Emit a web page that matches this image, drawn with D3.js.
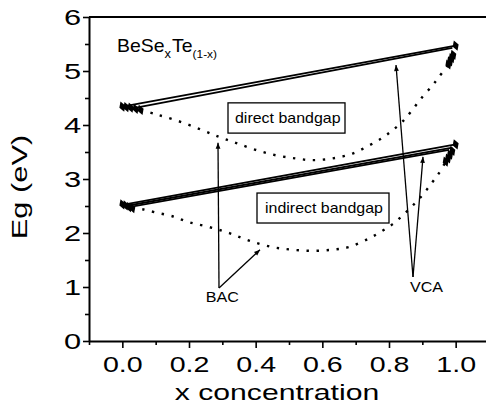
<!DOCTYPE html>
<meta charset="utf-8">
<style>
  body { margin: 0; background: #fff; }
  text { font-family: "Liberation Sans", Arial, sans-serif; fill: #000; }
</style>
<body>
<div id="chart"></div>
<script src="https://d3js.org/d3.v7.min.js"></script>
<script>
  // ticks
  var xTicks = [0, 0.2, 0.4, 0.6, 0.8, 1.0];
  var xMinor = [-0.1, 0.1, 0.3, 0.5, 0.7, 0.9];
  var yTicks = [0, 1, 2, 3, 4, 5, 6];
  var yMinor = [0.5, 1.5, 2.5, 3.5, 4.5, 5.5];

  // solid (VCA) lines, [x0, y0, x1, y1]
  var directVCA = [[0, 4.34, 1, 5.47], [0.03, 4.31, 0.99, 5.43]];
  var indirectVCA = [[0, 2.52, 1, 3.64], [0.01, 2.50, 0.99, 3.58], [0.02, 2.48, 0.98, 3.54]];

  // diamond markers
  var directPts = [[0, 4.34], [0.012, 4.33], [0.025, 4.32], [0.04, 4.30], [0.055, 4.28],
    [1.0, 5.47], [0.993, 5.30], [0.988, 5.24], [0.983, 5.18], [0.978, 5.12]];
  var indirectPts = [[0, 2.53], [0.01, 2.51], [0.02, 2.48], [0.03, 2.46],
    [1.0, 3.64], [0.99, 3.52], [0.983, 3.45], [0.977, 3.38], [0.97, 3.32]];

  // dotted (BAC) curves
  var directBAC = [[0.055, 4.28], [0.10, 4.20], [0.16, 4.09], [0.23, 3.93], [0.29, 3.78], [0.34, 3.67],
    [0.40, 3.54], [0.46, 3.44], [0.52, 3.38], [0.57, 3.35], [0.63, 3.38], [0.69, 3.47], [0.74, 3.62],
    [0.78, 3.76], [0.81, 3.90], [0.84, 4.06], [0.87, 4.28], [0.90, 4.52], [0.93, 4.73], [0.95, 4.89],
    [0.978, 5.12]];
  var indirectBAC = [[0.03, 2.46], [0.06, 2.44], [0.10, 2.38], [0.15, 2.31], [0.20, 2.20], [0.26, 2.11],
    [0.32, 2.00], [0.38, 1.86], [0.45, 1.74], [0.51, 1.69], [0.57, 1.67], [0.63, 1.69], [0.68, 1.74],
    [0.74, 1.90], [0.78, 2.04], [0.81, 2.16], [0.84, 2.32], [0.87, 2.50], [0.90, 2.70], [0.93, 2.94],
    [0.95, 3.11], [0.97, 3.32]];

  var margin = {top: 17, left: 89},
    width = 400,
    height = 324;

  var x = d3.scaleLinear().domain([-0.1, 1.1]).range([0, width]);
  var y = d3.scaleLinear().domain([0, 6]).range([height, 0]);

  var root = d3.select("#chart").append("svg")
    .attr("width", 486)
    .attr("height", 408);

  var defs = root.append("defs");
  defs.append("marker")
    .attr("id", "arr")
    .attr("viewBox", "0 0 10 10")
    .attr("refX", 10).attr("refY", 5)
    .attr("markerUnits", "userSpaceOnUse")
    .attr("markerWidth", 8).attr("markerHeight", 6)
    .attr("orient", "auto")
    .append("path")
    .attr("d", "M0,1 L10,5 L0,9 Z")
    .attr("fill", "#000");

  var svg = root.append("g")
    .attr("transform", "translate(" + margin.left + "," + margin.top + ")");

  function scaled(g, px, py, str, size, sx, anchor) {
    return g.append("text")
      .attr("transform", "translate(" + px + "," + py + ") scale(" + sx + ",1)")
      .attr("font-size", size)
      .attr("text-anchor", anchor || "start")
      .text(str);
  }

  // frame: top line
  svg.append("line")
    .attr("x1", 0).attr("x2", width)
    .attr("y1", 0).attr("y2", 0)
    .attr("stroke", "#000").attr("stroke-width", 2);

  // x axis
  var xAxis = svg.append("g")
    .attr("transform", "translate(0," + height + ")")
    .call(d3.axisBottom(x).tickValues(xTicks).tickFormat(d3.format(".1f")).tickSize(7).tickSizeOuter(0));
  svg.append("g")
    .attr("transform", "translate(0," + height + ")")
    .call(d3.axisBottom(x).tickValues(xMinor).tickFormat("").tickSize(4).tickSizeOuter(0))
    .select(".domain").remove();
  xAxis.selectAll("text")
    .attr("y", 15).attr("dy", "0.71em")
    .attr("font-size", 22)
    .attr("font-family", "Liberation Sans, Arial, sans-serif")
    .attr("transform", "scale(1.3,1)");

  // y axis
  var yAxis = svg.append("g")
    .call(d3.axisLeft(y).tickValues(yTicks).tickFormat(d3.format("d")).tickSize(6).tickSizeOuter(0));
  svg.append("g")
    .call(d3.axisLeft(y).tickValues(yMinor).tickFormat("").tickSize(4).tickSizeOuter(0))
    .select(".domain").remove();
  yAxis.selectAll("text")
    .attr("x", -8 / 1.4)
    .attr("font-size", 22)
    .attr("font-family", "Liberation Sans, Arial, sans-serif")
    .attr("transform", "scale(1.4,1)");

  svg.selectAll(".domain").attr("stroke-width", 2);
  svg.selectAll(".tick line").attr("stroke-width", 1.6);

  // axis titles
  scaled(root, 277, 400, "x concentration", 22, 1.37, "middle");
  root.append("text")
    .attr("transform", "translate(27,187) rotate(-90) scale(1.4,1)")
    .attr("font-size", 22)
    .attr("text-anchor", "middle")
    .text("Eg (eV)");

  // solid lines
  svg.selectAll(".vca")
    .data(directVCA.concat(indirectVCA))
    .enter().append("line")
    .attr("x1", function(d) { return x(d[0]); })
    .attr("y1", function(d) { return y(d[1]); })
    .attr("x2", function(d) { return x(d[2]); })
    .attr("y2", function(d) { return y(d[3]); })
    .attr("stroke", "#000")
    .attr("stroke-width", 1.8);

  // dotted curves
  var line = d3.line()
    .x(function(d) { return x(d[0]); })
    .y(function(d) { return y(d[1]); })
    .curve(d3.curveCatmullRom);

  [directBAC, indirectBAC].forEach(function(s) {
    svg.append("path")
      .attr("d", line(s))
      .attr("fill", "none")
      .attr("stroke", "#000")
      .attr("stroke-width", 2.4)
      .attr("stroke-dasharray", "2.4,7.6");
  });

  // diamonds
  svg.selectAll(".pt")
    .data(directPts.concat(indirectPts))
    .enter().append("path")
    .attr("transform", function(d) { return "translate(" + x(d[0]) + "," + y(d[1]) + ") rotate(-20)"; })
    .attr("d", d3.symbol().type(d3.symbolDiamond).size(34))
    .attr("fill", "#000");

  // boxes with labels
  function box(x0, x1, y0, y1, tx, ty, str) {
    svg.append("rect")
      .attr("x", x(x0)).attr("y", y(y0))
      .attr("width", x(x1) - x(x0))
      .attr("height", y(y1) - y(y0))
      .attr("fill", "#fff")
      .attr("stroke", "#000")
      .attr("stroke-width", 1.3);
    scaled(svg, x(tx), y(ty), str, 14, 1.14, "start");
  }
  box(0.317, 0.668, 4.41, 3.85, 0.338, 4.04, "direct bandgap");
  box(0.404, 0.80, 2.74, 2.185, 0.428, 2.37, "indirect bandgap");

  // arrows
  function arrow(a, b) {
    svg.append("line")
      .attr("x1", x(a[0])).attr("y1", y(a[1]))
      .attr("x2", x(b[0])).attr("y2", y(b[1]))
      .attr("stroke", "#000")
      .attr("stroke-width", 1.3)
      .attr("marker-end", "url(#arr)");
  }
  arrow([0.29, 0.98], [0.287, 3.67]);
  arrow([0.29, 0.98], [0.413, 1.69]);
  arrow([0.872, 1.185], [0.821, 5.11]);
  arrow([0.872, 1.185], [0.902, 3.41]);

  scaled(svg, x(0.25), y(0.72), "BAC", 14, 1.15, "start");
  scaled(svg, x(0.863), y(0.907), "VCA", 14, 1.15, "start");

  // compound label
  var comp = svg.append("text")
    .attr("transform", "translate(" + x(-0.016) + "," + y(5.35) + ") scale(1.08,1)")
    .attr("font-size", 18);
  comp.append("tspan").text("BeSe");
  comp.append("tspan").attr("font-size", 12).attr("dy", 6).text("x");
  comp.append("tspan").attr("dy", -6).attr("dx", 1).text("Te");
  comp.append("tspan").attr("font-size", 11).attr("dy", 6).text("(1-x)");
</script>
</body>
